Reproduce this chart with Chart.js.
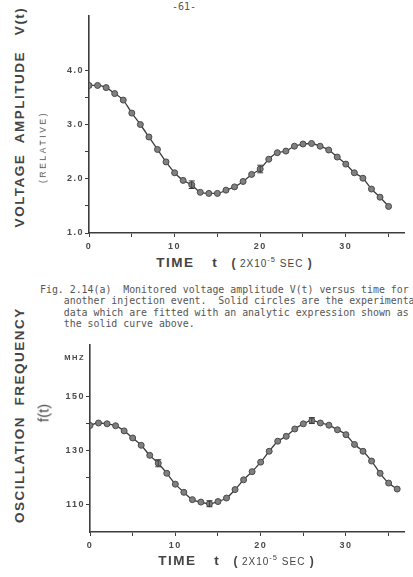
<!DOCTYPE html>
<html><head><meta charset="utf-8">
<script src="https://cdn.jsdelivr.net/npm/chart.js@4/dist/chart.umd.min.js"></script>
<style>
html,body{margin:0;padding:0;background:#fff;width:413px;height:577px;overflow:hidden;position:relative;font-family:'Liberation Sans',sans-serif;color:#4a4a4a}
canvas{position:absolute}
.t{position:absolute;white-space:nowrap;transform:translate(-50%,-50%);line-height:1}
.rot{transform:translate(-50%,-50%) rotate(-90deg)}
.big{font-family:'Liberation Sans',sans-serif;font-weight:bold;font-size:13.5px;letter-spacing:1.5px;color:#444}
.mono{font-family:'DejaVu Sans Mono',monospace;color:#555}
.sm{font-family:'Liberation Sans',sans-serif;font-size:10px;letter-spacing:1px;color:#444}
.br{font-weight:bold;font-size:12px;color:#444}
sup{font-size:7.5px;vertical-align:5px;line-height:0}
</style></head><body>
<div class="t mono" style="left:184px;top:7px;font-size:10px">-61-</div>

<canvas id="c1" width="373" height="253" style="left:40px;top:0"></canvas>
<div class="t rot big" style="left:20px;top:117px">VOLTAGE&nbsp;&nbsp;AMPLITUDE&nbsp;&nbsp;&nbsp;V(t)</div>
<div class="t rot" style="left:43px;top:147px;font-size:8.5px;letter-spacing:2.6px;color:#4a4a4a">(RELATIVE)</div>
<div class="t" style="left:234px;top:262px"><span class="big">TIME</span>&nbsp;&nbsp;&nbsp;&nbsp;<span class="big">t</span>&nbsp;&nbsp;&nbsp;<span class="br">(</span>&nbsp;<span class="sm">2X10<sup>-5</sup> SEC</span>&nbsp;<span class="br">)</span></div>

<div class="mono" style="position:absolute;left:40px;top:283.5px;font-size:9.9px;line-height:11.6px;white-space:pre">Fig. 2.14(a)  Monitored voltage amplitude V(t) versus time for
    another injection event.  Solid circles are the experimental
    data which are fitted with an analytic expression shown as
    the solid curve above.</div>

<canvas id="c2" width="373" height="222" style="left:40px;top:330px"></canvas>
<div class="t rot big" style="left:20px;top:415px">OSCILLATION&nbsp;&nbsp;FREQUENCY</div>
<div class="t rot" style="left:43px;top:413px;font-size:15px;color:#4a4a4a">f(t)</div>
<div class="t" style="left:236px;top:560px"><span class="big">TIME</span>&nbsp;&nbsp;&nbsp;&nbsp;<span class="big">t</span>&nbsp;&nbsp;&nbsp;<span class="br">(</span>&nbsp;<span class="sm">2X10<sup>-5</sup> SEC</span>&nbsp;<span class="br">)</span></div>

<script>
// ---- data: top chart (voltage amplitude, relative) ----
const vTime = [0,1,2,3,4,5,6,7,8,9,10,11,12,13,14,15,16,17,18,19,20,21,22,23,24,25,26,27,28,29,30,31,32,33,34,35];
const vAmp  = [3.72,3.72,3.68,3.57,3.45,3.21,3.00,2.77,2.54,2.31,2.11,1.97,1.89,1.75,1.73,1.73,1.79,1.85,1.95,2.08,2.18,2.36,2.48,2.51,2.60,2.64,2.65,2.60,2.53,2.40,2.27,2.11,2.01,1.81,1.66,1.49];
const vErrTime = [12,20];
const vErrSize = [0.07,0.07];
const vTicks = [1.0,1.5,2.0,2.5,3.0,3.5,4.0];
const vTickLabels = ['1.0','','2.0','','3.0','','4.0'];

// ---- data: bottom chart (oscillation frequency, MHz) ----
const fTime = [0,1,2,3,4,5,6,7,8,9,10,11,12,13,14,15,16,17,18,19,20,21,22,23,24,25,26,27,28,29,30,31,32,33,34,35,36];
const fFreq = [139.2,140.1,139.8,139.1,137.2,134.6,131.9,128.2,125.3,121.6,117.6,114.6,111.9,111.0,110.4,111.2,112.5,115.6,119.2,122.2,125.7,129.7,133.4,135.2,137.9,139.8,141.0,140.1,139.3,137.6,135.8,132.2,129.7,126.1,121.6,118.0,115.8];
const fErrTime = [8,14,26];
const fErrSize = [1.3,1.1,1.1];
const fTicks = [110,120,130,140,150,164];
const fTickLabels = ['110','','130','','150','MHZ'];

// ---- shared x axis ticks ----
const xTicks = [0,5,10,15,20,25,30,35];
const xTickLabels = ['0','','10','','20','','30',''];

const INK = '#3c3c3c';

const errPlugin = {
  id: 'errbars',
  afterDatasetsDraw(chart, args, opts) {
    const ctx = chart.ctx, x = chart.scales.x, y = chart.scales.y;
    ctx.save();
    ctx.strokeStyle = INK; ctx.lineWidth = 1;
    opts.t.forEach((t, i) => {
      const v = opts.vals[opts.times.indexOf(t)];
      const px = x.getPixelForValue(t);
      const yl = y.getPixelForValue(v - opts.e[i]);
      const yh = y.getPixelForValue(v + opts.e[i]);
      ctx.beginPath();
      ctx.moveTo(px, yl); ctx.lineTo(px, yh);
      ctx.moveTo(px - 3, yl); ctx.lineTo(px + 3, yl);
      ctx.moveTo(px - 3, yh); ctx.lineTo(px + 3, yh);
      ctx.stroke();
    });
    ctx.restore();
  }
};
const spacingPlugin = {
  id: 'spacing',
  beforeUpdate(chart) { chart.ctx.letterSpacing = '1.5px'; },
  beforeDraw(chart) { chart.ctx.letterSpacing = '1.5px'; }
};

function makeChart(id, times, vals, yMin, yMax, yTicks, yLabels, errT, errE, yWidth, padTop) {
  const pts = times.map((t, i) => ({x: t, y: vals[i]}));
  return new Chart(document.getElementById(id), {
    type: 'line',
    data: { datasets: [{
      data: pts,
      borderColor: INK, borderWidth: 1.3,
      pointRadius: 3, pointBackgroundColor: '#808080', pointBorderColor: '#4a4a4a', pointBorderWidth: 1,
      cubicInterpolationMode: 'monotone'
    }]},
    options: {
      responsive: false, animation: false, devicePixelRatio: 1,
      layout: { padding: { top: padTop, right: 9, left: 0, bottom: 0 } },
      plugins: { legend: {display: false}, tooltip: {enabled: false},
        errbars: { t: errT, e: errE, times: times, vals: vals } },
      scales: {
        x: {
          type: 'linear', min: 0, max: 36.8,
          afterBuildTicks: s => { s.ticks = xTicks.map(v => ({value: v})); },
          afterFit: s => { s.height = 20; },
          border: { color: INK, width: 1.6 },
          grid: { drawOnChartArea: false, tickLength: 4, tickColor: INK, lineWidth: 1 },
          ticks: { autoSkip: false, maxRotation: 0, padding: 4, color: '#4a4a4a',
            font: { family: 'Liberation Sans', size: 9, weight: 'bold' },
            callback: v => xTickLabels[xTicks.indexOf(v)] ?? '' }
        },
        y: {
          min: yMin, max: yMax,
          afterBuildTicks: s => { s.ticks = yTicks.map(v => ({value: v})); },
          afterFit: s => { s.width = yWidth; },
          border: { color: INK, width: 1.6 },
          grid: { drawOnChartArea: false, tickLength: 4, lineWidth: 1,
            tickColor: c => (c.tick && yLabels[yTicks.indexOf(c.tick.value)] === 'MHZ') ? 'rgba(0,0,0,0)' : INK },
          ticks: { autoSkip: false, padding: 1, color: '#4a4a4a',
            font: c => ({ family: 'Liberation Sans', weight: 'bold',
              size: (c.tick && yLabels[yTicks.indexOf(c.tick.value)] === 'MHZ') ? 7.5 : 9 }),
            callback: v => yLabels[yTicks.indexOf(v)] ?? '' }
        }
      }
    },
    plugins: [errPlugin, spacingPlugin]
  });
}

makeChart('c1', vTime, vAmp, 1.0, 5.0, vTicks, vTickLabels, vErrTime, vErrSize, 49, 16);
makeChart('c2', fTime, fFreq, 100, 168.8, fTicks, fTickLabels, fErrTime, fErrSize, 50, 15);
</script>
</body></html>
